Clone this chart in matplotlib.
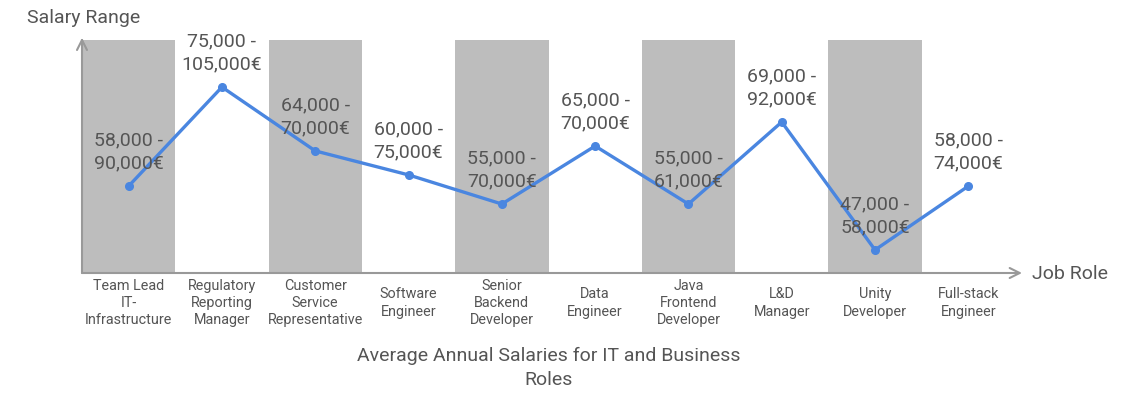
import matplotlib.pyplot as plt

plt.rcParams['font.family'] = ['Roboto', 'DejaVu Sans']

roles = ["Team Lead\nIT-\nInfrastructure", "Regulatory\nReporting\nManager",
         "Customer\nService\nRepresentative", "Software\nEngineer",
         "Senior\nBackend\nDeveloper", "Data\nEngineer", "Java\nFrontend\nDeveloper",
         "L&D\nManager", "Unity\nDeveloper", "Full-stack\nEngineer"]
salary_labels = ["58,000 -\n90,000€", "75,000 -\n105,000€", "64,000 -\n70,000€",
                 "60,000 -\n75,000€", "55,000 -\n70,000€", "65,000 -\n70,000€",
                 "55,000 -\n61,000€", "69,000 -\n92,000€", "47,000 -\n58,000€",
                 "58,000 -\n74,000€"]
# relative position of each point on the chart (0 = axis, 100 = top of bands)
levels = [37.3, 79.8, 52.4, 42.1, 29.6, 54.5, 29.6, 64.8, 9.9, 37.3]

fig = plt.figure(figsize=(11.35, 4), dpi=100)
ax = fig.add_axes([82/1135, 127/400, 933/1135, 233/400])

x = list(range(len(roles)))
# alternating grey bands
for i in x:
    if i % 2 == 0:
        ax.bar(i, 100, width=1.0, color="#bdbdbd", zorder=1)

ax.plot(x, levels, color="#4a86e0", lw=2.4, marker="o", ms=5.5, zorder=3)

for i in x:
    ax.annotate(salary_labels[i], (i, levels[i]), xytext=(0, 24.5),
                textcoords="offset points", ha="center", va="center",
                fontsize=14, color="#555555", linespacing=1.35, zorder=4)
    ax.text(i, -0.129, roles[i], transform=ax.get_xaxis_transform(),
            ha="center", va="center", fontsize=10.4, color="#555555", linespacing=1.3)

ax.set_xlim(-0.5, 9.5)
ax.set_ylim(0, 100)
ax.axis("off")

# axis arrows
ax.annotate("", xy=(9.575, 0), xytext=(-0.5, 0), annotation_clip=False,
            arrowprops=dict(arrowstyle="->", color="#999999", lw=1.5,
                            mutation_scale=18, shrinkA=0, shrinkB=0))
ax.annotate("", xy=(-0.5, 101), xytext=(-0.5, 0), annotation_clip=False,
            arrowprops=dict(arrowstyle="->", color="#999999", lw=1.5,
                            mutation_scale=18, shrinkA=0, shrinkB=0))

fig.text(27/1135, 1 - 18/400, "Salary Range", fontsize=14, color="#555555",
         ha="left", va="center")
fig.text(1032/1135, 1 - 274/400, "Job Role", fontsize=14, color="#555555",
         ha="left", va="center")
fig.text(549/1135, 1 - 368/400, "Average Annual Salaries for IT and Business\nRoles",
         fontsize=14, color="#555555", ha="center", va="center", linespacing=1.4)

fig.savefig("out.png", dpi=100)
